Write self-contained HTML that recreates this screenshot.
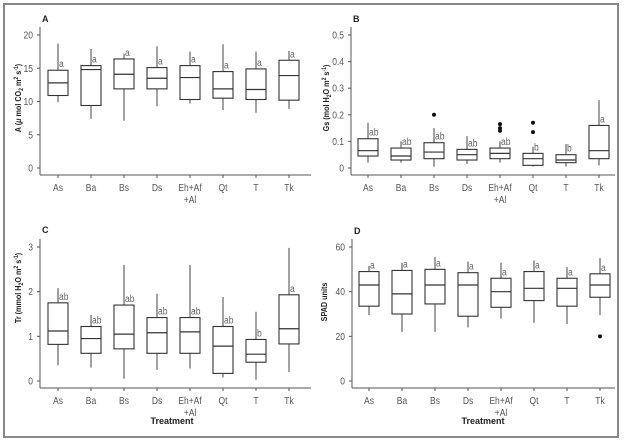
<!DOCTYPE html>
<html><head><meta charset="utf-8"><style>
html,body{margin:0;padding:0;background:#fff}
svg{display:block}
text{font-family:"Liberation Sans",sans-serif}
</style></head><body>
<svg id="fig" width="627" height="442" xmlns="http://www.w3.org/2000/svg">
<rect x="4" y="4" width="614" height="433" fill="none" stroke="#888" stroke-width="2"/>
</svg>
<script>
const categories = ["As","Ba","Bs","Ds","Eh+Af|+Al","Qt","T","Tk"];
// [min, q1, median, q3, max]
const seriesA = [[9.9,10.9,12.8,14.7,18.7],[7.4,9.4,14.8,15.4,17.9],[7.1,11.9,14.1,16.4,17.2],[9.3,11.9,13.5,15.1,18.3],[9.7,10.3,13.6,15.4,17.5],[8.7,10.5,11.9,14.5,18.6],[8.3,10.3,11.8,14.9,17.5],[8.9,10.2,13.9,16.2,17.6]];
const seriesB = [[0.02,0.045,0.065,0.11,0.17],[0.02,0.03,0.045,0.075,0.10],[0.005,0.035,0.06,0.095,0.15],[0.015,0.03,0.05,0.07,0.12],[0.02,0.035,0.055,0.075,0.10],[0.005,0.01,0.035,0.055,0.08],[0.005,0.02,0.03,0.05,0.09],[0.01,0.035,0.065,0.16,0.255]];
const seriesC = [[0.35,0.82,1.12,1.75,2.08],[0.3,0.62,0.95,1.22,1.48],[0.05,0.72,1.05,1.7,2.6],[0.25,0.62,1.08,1.42,1.95],[0.28,0.62,1.1,1.42,2.6],[0.08,0.17,0.78,1.22,1.88],[0.03,0.42,0.6,0.93,1.55],[0.2,0.83,1.17,1.93,2.98]];
const seriesD = [[29.5,33.5,43,49,51.5],[22,30,39,49.5,53],[22,34.5,43,50,55.5],[24,29,43,48.5,53.5],[28,33,40,46,53],[26,36,41.5,49,54],[25.5,33.5,41.5,46,51],[29.5,37.5,43,48,55]];
const outliersB = [[],[],[0.20],[],[0.14,0.15,0.165],[0.135,0.17],[],[]];
const outliersD = [[],[],[],[],[],[],[],[20]];
const lettersA = ["a","a","a","a","a","a","a","a"];
const lettersB = ["ab","ab","ab","ab","ab","b","b","a"];
const lettersC = ["ab","ab","ab","ab","ab","ab","b","a"];
const lettersD = ["a","a","a","a","a","a","a","a"];
const ticksA = [0,5,10,15,20];
const ticksB = [0,0.1,0.2,0.3,0.4,0.5];
const ticksC = [0,1,2,3];
const ticksD = [0,20,40,60];

const NS="http://www.w3.org/2000/svg";
const svg=document.getElementById('fig');
function mk(tag,attrs,parent){const e=document.createElementNS(NS,tag);for(const k in attrs)e.setAttribute(k,attrs[k]);(parent||svg).appendChild(e);return e;}

function panel(o){
  const g=mk('g',{});
  
  
  const y=v=>o.y0-(v-o.vmin)/(o.vmax-o.vmin)*(o.y0-o.y1);
  const x=i=>o.xs+i*o.dx;
  const col="#555";
  let t=mk('text',{x:o.ax+2,y:o.top,'font-size':9,'font-weight':'bold',fill:'#222'},g);t.textContent=o.id;
  
  let l=mk('line',{x1:o.ax,y1:o.y1-8,x2:o.ax,y2:o.axY,stroke:col,'stroke-width':1},g);
  
  l=mk('line',{x1:o.ax,y1:o.axY,x2:o.xEnd,y2:o.axY,stroke:col,'stroke-width':1},g);
  
  o.ticks.forEach(v=>{
    const tk=mk('line',{x1:o.ax-3,y1:y(v),x2:o.ax,y2:y(v),stroke:col},g);
    
    const tl=mk('text',{x:0,y:0,'font-size':10,fill:'#555','text-anchor':'end',transform:`translate(${o.ax-7},${y(v)+3.5}) scale(0.85,1)`},g);
    tl.textContent=String(v);
    
  });
  const yt=mk('text',{x:0,y:0,'font-size':8.5,'font-weight':'bold',fill:'#222','text-anchor':'middle',transform:`translate(${o.titleX},${o.titleY}) rotate(-90) scale(0.85,1)`},g);
  yt.innerHTML=o.title;
  
  categories.forEach((c,i)=>{
    const cx=x(i);
    const tk=mk('line',{x1:cx,y1:o.axY,x2:cx,y2:o.axY+3,stroke:col},g);
    
    c.split('|').forEach((p,j)=>{
      const tl=mk('text',{x:0,y:0,'font-size':10,fill:'#555','text-anchor':'middle',transform:`translate(${cx},${o.axY+16+j*12}) scale(0.85,1)`},g);
      tl.textContent=p;
      
    });
    const d=o.data[i],w=10;
    const bg=mk('g',{},g);
    
    
    mk('line',{x1:cx,y1:y(d[4]),x2:cx,y2:y(d[3]),stroke:'#444'},bg);
    mk('line',{x1:cx,y1:y(d[1]),x2:cx,y2:y(d[0]),stroke:'#444'},bg);
    mk('rect',{x:cx-w,y:y(d[3]),width:2*w,height:y(d[1])-y(d[3]),fill:'#fff',stroke:'#333','stroke-width':1.1},bg);
    mk('line',{x1:cx-w,y1:y(d[2]),x2:cx+w,y2:y(d[2]),stroke:'#333','stroke-width':1.2},bg);
    (o.out[i]||[]).forEach(v=>{
      const p=mk('circle',{cx:cx,cy:y(v),r:2,fill:'#111'},g);
      
    });
    const lt=mk('text',{x:0,y:0,'font-size':10,fill:'#666',transform:`translate(${cx+1},${y(d[3])-3}) scale(0.85,1)`},g);
    lt.textContent=o.letters[i];
    
  });
}
panel({id:'A',top:22,ax:40,xEnd:311,axY:175,y0:168,y1:35,vmin:0,vmax:20,xs:58,dx:33,data:seriesA,out:[],letters:lettersA,ticks:ticksA,
  title:'A (<tspan font-style="italic">μ</tspan> mol CO<tspan font-size="6" dy="2">2</tspan><tspan dy="-2"> m</tspan><tspan font-size="6" dy="-3">2</tspan><tspan dy="3"> s</tspan><tspan font-size="6" dy="-3">-1</tspan><tspan dy="3">)</tspan>',titleX:21,titleY:98});
panel({id:'B',top:22,ax:351,xEnd:615,axY:175,y0:168,y1:35,vmin:0,vmax:0.5,xs:368,dx:33,data:seriesB,out:outliersB,letters:lettersB,ticks:ticksB,
  title:'Gs (mol H<tspan font-size="6" dy="2">2</tspan><tspan dy="-2">O m</tspan><tspan font-size="6" dy="-3">2</tspan><tspan dy="3"> s</tspan><tspan font-size="6" dy="-3">-1</tspan><tspan dy="3">)</tspan>',titleX:329,titleY:98});
panel({id:'C',top:233,ax:40,xEnd:311,axY:388,y0:381,y1:247,vmin:0,vmax:3,xs:58,dx:33,data:seriesC,out:[],letters:lettersC,ticks:ticksC,
  title:'Tr (mmol H<tspan font-size="6" dy="2">2</tspan><tspan dy="-2">O m</tspan><tspan font-size="6" dy="-3">2</tspan><tspan dy="3"> s</tspan><tspan font-size="6" dy="-3">-1</tspan><tspan dy="3">)</tspan>',titleX:21,titleY:288});
panel({id:'D',top:234,ax:352,xEnd:615,axY:388,y0:381,y1:247,vmin:0,vmax:60,xs:369,dx:33,data:seriesD,out:outliersD,letters:lettersD,ticks:ticksD,
  title:'SPAD units',titleX:327,titleY:302});
(function(){
  [[172,424],[483,424]].forEach(p=>{
    const xt=mk('text',{x:p[0],y:p[1],'font-size':9,'font-weight':'bold',fill:'#222','text-anchor':'middle'});
    xt.textContent='Treatment';
    
    
  });
})();
</script>
</body></html>
